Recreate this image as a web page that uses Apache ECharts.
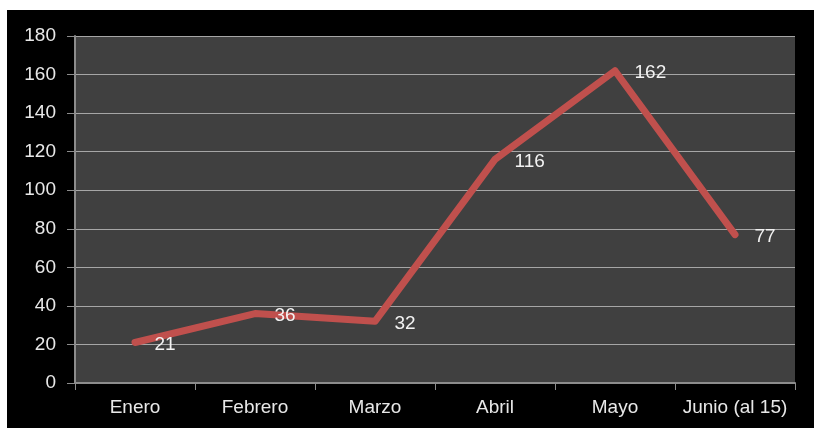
<!DOCTYPE html>
<html>
<head>
<meta charset="utf-8">
<script src="https://cdn.jsdelivr.net/npm/echarts@6/dist/echarts.min.js"></script>
<style>
  html, body { margin: 0; padding: 0; background: #fff; width: 814px; height: 428px; overflow: hidden; }
  #chart { position: absolute; left: 7px; top: 10px; width: 807px; height: 418px; background: #000; }
</style>
</head>
<body>
<div id="chart"></div>
<script>
// months and visit counts
const months = ['Enero', 'Febrero', 'Marzo', 'Abril', 'Mayo', 'Junio (al 15)'];
const visits = [21, 36, 32, 116, 162, 77];
const yTicks = { min: 0, max: 180, interval: 20 };

const font = 'Arial, "Liberation Sans", sans-serif';
const chart = echarts.init(document.getElementById('chart'));

chart.setOption({
    backgroundColor: '#000',
    animation: false,
    grid: {
        left: 68, right: 19, top: 26, bottom: 45,
        show: true, backgroundColor: '#404040', borderWidth: 0
    },
    xAxis: {
        type: 'category',
        data: months,
        boundaryGap: true,
        axisLine: { lineStyle: { color: '#8c8c8c', width: 2 } },
        axisTick: { show: true, interval: 0, length: 7, lineStyle: { color: '#8c8c8c', width: 1 } },
        axisLabel: { interval: 0, color: '#e8e8e8', fontFamily: font, fontSize: 19, margin: 15 },
        splitLine: { show: false }
    },
    yAxis: {
        type: 'value',
        min: yTicks.min, max: yTicks.max, interval: yTicks.interval,
        axisLine: { show: true, lineStyle: { color: '#8c8c8c', width: 2 } },
        axisTick: { show: true, length: 8, lineStyle: { color: '#8c8c8c', width: 1 } },
        axisLabel: { color: '#e8e8e8', fontFamily: font, fontSize: 19, margin: 19 },
        splitLine: { show: true, lineStyle: { color: '#a6a6a6', width: 1 } }
    },
    series: [{
        type: 'line',
        data: visits,
        symbol: 'circle',
        symbolSize: 1,
        showSymbol: true,
        itemStyle: { color: '#c0504d' },
        lineStyle: { color: '#c0504d', width: 7, cap: 'round', join: 'round' },
        label: {
            show: true,
            position: 'right',
            distance: 19,
            offset: [0, 2],
            color: '#f2f2f2',
            fontFamily: font,
            fontSize: 19
        }
    }]
});
</script>
</body>
</html>
